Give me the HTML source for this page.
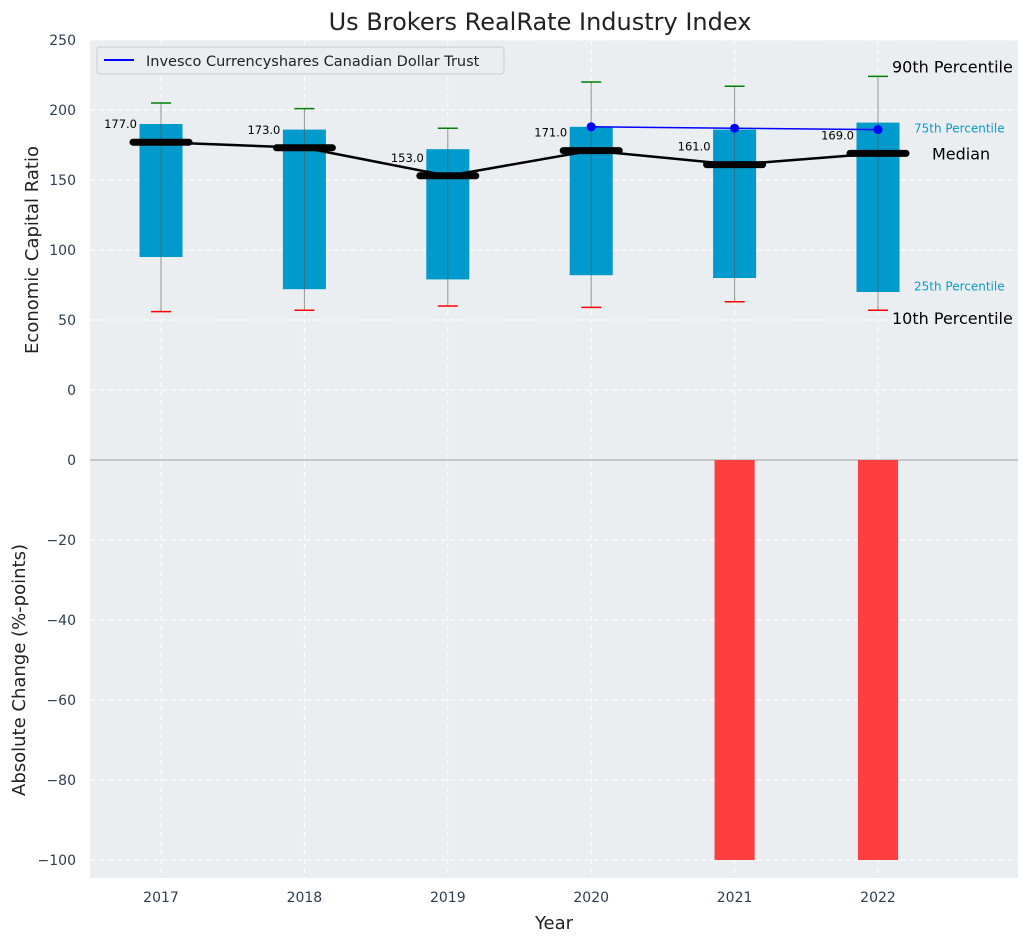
<!DOCTYPE html>
<html><head><meta charset="utf-8"><style>
body{margin:0;background:#fff;font-family:"Liberation Sans","DejaVu Sans",sans-serif;}
svg text{font-family:"DejaVu Sans","Liberation Sans",sans-serif;}
</style></head><body>
<svg id="c" width="1029" height="942" viewBox="0 0 1029 942" xmlns="http://www.w3.org/2000/svg"></svg>
<script>
const years=[2017,2018,2019,2020,2021,2022];
const p10=[56,57,60,59,63,57];
const q1=[95,72,79,82,80,70];
const median=[177,173,153,171,161,169];
const q3=[190,186,172,188,186,191];
const p90=[205,201,187,220,217,224];
const invYears=[2020,2021,2022];
const invVals=[188,187,186];
const chgYears=[2021,2022];
const chgVals=[-100,-100];
const topTicks=[0,50,100,150,200,250];
const botTicks=[-100,-80,-60,-40,-20,0];

const svg=document.getElementById('c');
const NS='http://www.w3.org/2000/svg';
function el(t,a,txt){const e=document.createElementNS(NS,t);for(const k in a)e.setAttribute(k,a[k]);if(txt!==undefined)e.textContent=txt;svg.appendChild(e);return e;}
const L=90,R=1018;
const x=v=>161+(v-2017)*143.4;
const yT=v=>390-v*1.4;
const yB=v=>460-v*4;

let e;
e=el('rect',{x:L,y:40,width:R-L,height:420,fill:'#eaeef0'});
e=el('rect',{x:L,y:460,width:R-L,height:418,fill:'#eaeef0'});
// grids
years.forEach(v=>{e=el('line',{x1:x(v),x2:x(v),y1:40,y2:878,stroke:'#fff','stroke-dasharray':'5,4','stroke-width':1});});
topTicks.forEach(v=>{e=el('line',{x1:L,x2:R,y1:yT(v),y2:yT(v),stroke:'#fff','stroke-dasharray':'5,4'});
 e=el('text',{x:76,y:yT(v)+5,'text-anchor':'end','font-size':14,fill:'#2e3e50'},v);});
botTicks.forEach(v=>{e=el('line',{x1:L,x2:R,y1:yB(v),y2:yB(v),stroke:'#fff','stroke-dasharray':'5,4'});
 e=el('text',{x:76,y:yB(v)+5,'text-anchor':'end','font-size':14,fill:'#2e3e50'},v===0?'0':'\u2212'+Math.abs(v));});
e=el('line',{x1:L,x2:R,y1:460,y2:460,stroke:'#b0b0b0','stroke-width':1.2});
// boxes
const bw=0.3*143.4;
years.forEach((v,i)=>{
 e=el('rect',{x:x(v)-bw/2,y:yT(q3[i]),width:bw,height:yT(q1[i])-yT(q3[i]),fill:'#009bcc'});
 e=el('line',{x1:x(v),x2:x(v),y1:yT(p90[i]),y2:yT(p10[i]),stroke:'#555','stroke-opacity':0.6,'stroke-width':1});
 e=el('line',{x1:x(v)-10,x2:x(v)+10,y1:yT(p90[i]),y2:yT(p90[i]),stroke:'green','stroke-width':1.5});
 e=el('line',{x1:x(v)-10,x2:x(v)+10,y1:yT(p10[i]),y2:yT(p10[i]),stroke:'red','stroke-width':1.5});
});
e=el('polyline',{points:years.map((v,i)=>x(v)+','+yT(median[i])).join(' '),fill:'none',stroke:'#000','stroke-width':2.5});
years.forEach((v,i)=>{
 e=el('line',{x1:x(v)-28,x2:x(v)+28,y1:yT(median[i]),y2:yT(median[i]),stroke:'#000','stroke-width':7,'stroke-linecap':'round'});
 e=el('text',{x:x(v)-24,y:yT(median[i])-14,'text-anchor':'end','font-size':11.5,fill:'#000'},median[i].toFixed(1));
});
e=el('polyline',{points:invYears.map((v,i)=>x(v)+','+yT(invVals[i])).join(' '),fill:'none',stroke:'blue','stroke-width':1.5});
invYears.forEach((v,i)=>{e=el('circle',{cx:x(v),cy:yT(invVals[i]),r:4.5,fill:'blue'});});
// annotations
const ax=x(2022)+14;
e=el('text',{x:ax,y:yT(224)-4,'font-size':16,fill:'#000'},'90th Percentile');
e=el('text',{x:ax+22,y:yT(186)+3,'font-size':12,fill:'#0a9bcc'},'75th Percentile');
e=el('text',{x:ax+40,y:yT(169)+6,'font-size':16,fill:'#000'},'Median');
e=el('text',{x:ax+22,y:yT(74)+4,'font-size':12,fill:'#0a9bcc'},'25th Percentile');
e=el('text',{x:ax,y:yT(50)+4,'font-size':16,fill:'#000'},'10th Percentile');
// bottom bars
chgYears.forEach((v,i)=>{const w=0.28*143.4;e=el('rect',{x:x(v)-w/2,y:Math.min(yB(0),yB(chgVals[i])),width:w,height:Math.abs(yB(chgVals[i])-yB(0)),fill:'#ff3f3f'});});
years.forEach(v=>{e=el('text',{x:x(v),y:902,'text-anchor':'middle','font-size':14,fill:'#2e3e50'},v);});
// legend
e=el('rect',{x:97,y:47,width:407,height:27,rx:3,fill:'#eaeef0',stroke:'#ccc'});
e=el('line',{x1:104,x2:134,y1:60,y2:60,stroke:'blue','stroke-width':2});
e=el('text',{x:146,y:66,'font-size':14.5,fill:'#222'},'Invesco Currencyshares Canadian Dollar Trust');
// titles
e=el('text',{x:540,y:30,'text-anchor':'middle','font-size':24,fill:'#222'},'Us Brokers RealRate Industry Index');
e=el('text',{x:554,y:929,'text-anchor':'middle','font-size':18,fill:'#222'},'Year');
e=el('text',{x:38,y:250,'text-anchor':'middle','font-size':18,fill:'#222',transform:'rotate(-90 38 250)'},'Economic Capital Ratio');
e=el('text',{x:25,y:670,'text-anchor':'middle','font-size':18,fill:'#222',transform:'rotate(-90 25 670)'},'Absolute Change (%-points)');
</script>
</body></html>
